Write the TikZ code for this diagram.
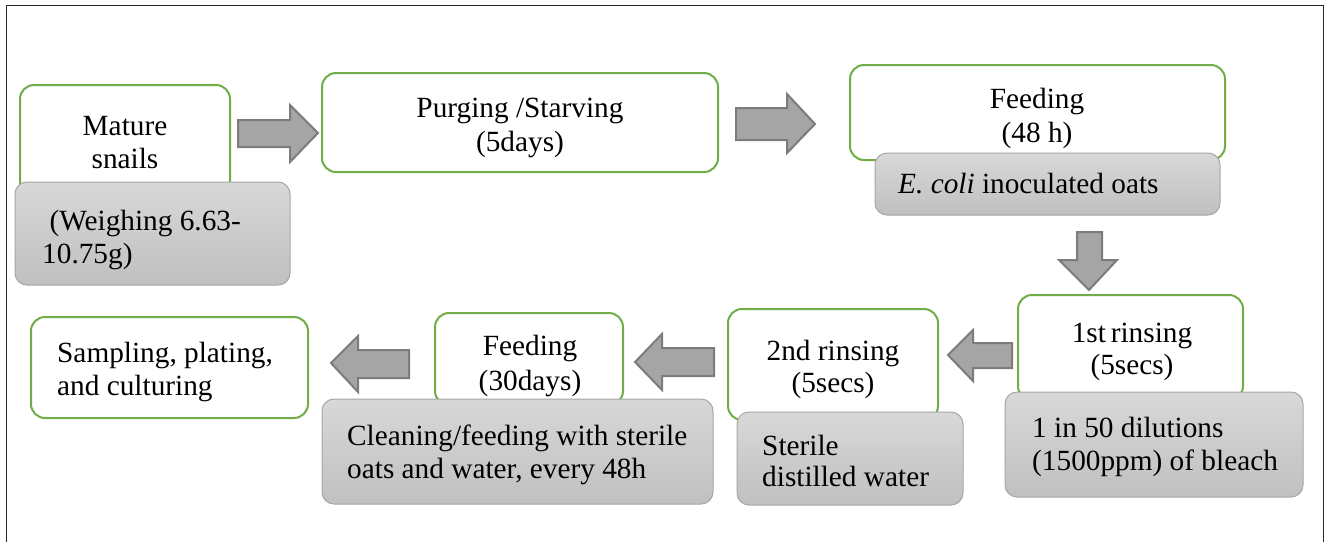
\documentclass[tikz,border=0pt]{standalone}
\usepackage{fontspec}
\setmainfont{Liberation Serif}
\begin{document}
\definecolor{boxgreen}{RGB}{112,173,71}
\definecolor{grayedge}{RGB}{166,166,166}
\definecolor{graytop}{RGB}{216,216,216}
\definecolor{graybot}{RGB}{192,192,192}
\definecolor{arrowfill}{RGB}{165,165,165}
\definecolor{arrowedge}{RGB}{124,124,124}
\definecolor{frame}{RGB}{40,40,40}
\begin{tikzpicture}[x=1pt,y=-1pt,
  greenbox/.style={draw=boxgreen,line width=2pt,rounded corners=14pt,fill=white},
  graybox/.style={draw=grayedge,line width=1pt,rounded corners=12pt,top color=graytop,bottom color=graybot},
  blockarrow/.style={fill=arrowfill,draw=arrowedge,line width=2pt,line join=miter},
  txt/.style={inner sep=0pt,anchor=base,font=\fontsize{29.3}{33}\selectfont},
  ltxt/.style={txt,anchor=base west}]
\useasboundingbox (0,0) rectangle (1330,542);
% outer frame, open at the bottom
\draw[frame,line width=1pt] (6.5,542) -- (6.5,5.5) -- (1323.5,5.5) -- (1323.5,542);

% step 1: mature snails
\draw[greenbox] (20,85) rectangle (230,195);
\node[txt] (t1a) at (125,135) {Mature};
\node[txt] (t1b) at (125,168) {snails};
\draw[graybox] (15,182) rectangle (290,285);
\node[ltxt] (n1a) at (42,230) {\ (Weighing 6.63-};
\node[ltxt] (n1b) at (42,263) {10.75g)};

% step 2: purging
\draw[greenbox] (322,73) rectangle (718,172);
\node[txt] (t2a) at (520,117) {Purging /Starving};
\node[txt] (t2b) at (520,151) {(5days)};

% step 3: feeding on inoculated oats
\draw[greenbox] (850,65) rectangle (1225,160);
\node[txt] (t3a) at (1037,108) {Feeding};
\node[txt] (t3b) at (1037,142) {(48 h)};
\draw[graybox] (875,153) rectangle (1220,215);
\node[ltxt] (n3) at (898,193) {\textit{E. coli} inoculated oats};

% step 4: first rinse
\draw[greenbox] (1018,295) rectangle (1243,400);
\node[txt] (t4a) at (1132,342) {1st\,rinsing};
\node[txt] (t4b) at (1132,374) {(5secs)};
\draw[graybox] (1005,392) rectangle (1303,497);
\node[ltxt] (n4a) at (1032,437) {1 in 50 dilutions};
\node[ltxt] (n4b) at (1032,470) {(1500ppm) of bleach};

% step 5: second rinse
\draw[greenbox] (728,309) rectangle (938,420);
\node[txt] (t5a) at (833,360) {2nd rinsing};
\node[txt] (t5b) at (833,392) {(5secs)};
\draw[graybox] (737,412) rectangle (963,505);
\node[ltxt] (n5a) at (762,455) {Sterile};
\node[ltxt] (n5b) at (762,486) {distilled water};

% step 6: feeding for 30 days
\draw[greenbox] (435,313) rectangle (623,405);
\node[txt] (t6a) at (530,355) {Feeding};
\node[txt] (t6b) at (530,390) {(30days)};
\draw[graybox] (322,399) rectangle (713,504);
\node[ltxt] (n6a) at (347,445) {Cleaning/feeding with sterile};
\node[ltxt] (n6b) at (347,478) {oats and water, every 48h};

% step 7: sampling
\draw[greenbox] (31,317) rectangle (308,418);
\node[ltxt] (t7a) at (57,362) {Sampling, plating,};
\node[ltxt] (t7b) at (57,395) {and culturing};

% block arrows between the steps
\draw[blockarrow] (238,120) -- (290,120) -- (290,105) -- (318,133) -- (290,162) -- (290,147) -- (238,147) -- cycle;
\draw[blockarrow] (736,108) -- (787,108) -- (787,94) -- (815,124) -- (787,153) -- (787,140) -- (736,140) -- cycle;
\draw[blockarrow] (1077,232) -- (1102,232) -- (1102,260) -- (1117,260) -- (1089,290) -- (1059,260) -- (1077,260) -- cycle;
\draw[blockarrow] (1012,343) -- (973,343) -- (973,330) -- (948,355) -- (973,381) -- (973,368) -- (1012,368) -- cycle;
\draw[blockarrow] (714,348) -- (662,348) -- (662,334) -- (635,362) -- (662,390) -- (662,376) -- (714,376) -- cycle;
\draw[blockarrow] (409,350) -- (358,350) -- (358,336) -- (331,363) -- (358,392) -- (358,378) -- (409,378) -- cycle;
\end{tikzpicture}
\end{document}
